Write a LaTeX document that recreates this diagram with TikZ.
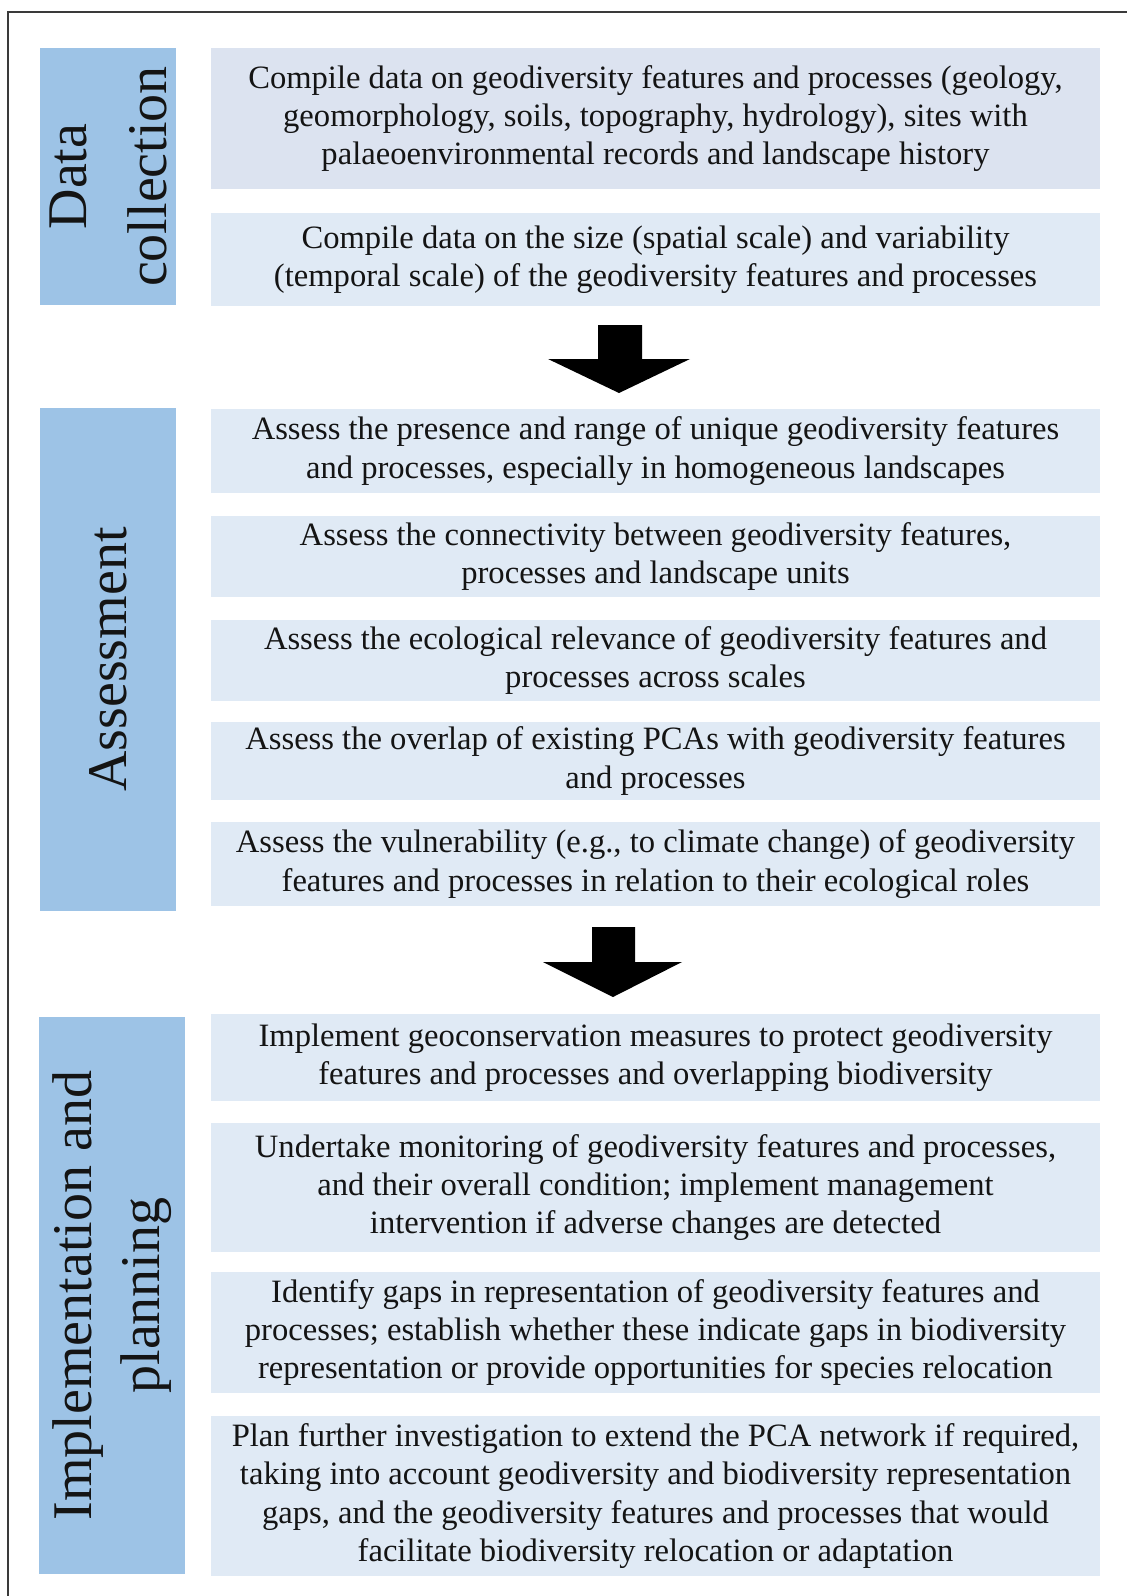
\documentclass[tikz,border=0pt]{standalone}
\usepackage{fontspec}
\setmainfont{Liberation Serif}
\definecolor{lfill}{HTML}{9DC3E6}
\definecolor{cfillA}{HTML}{DCE3F0}
\definecolor{cfill}{HTML}{E0EAF5}
\definecolor{txt}{HTML}{141414}
\definecolor{framec}{HTML}{3A3A3A}
\begin{document}
\begin{tikzpicture}[x=0.5pt,y=-0.5pt,
  cbox/.style={fill=cfill, inner sep=0pt, minimum width=444.5pt, align=center,
    font=\fontsize{16.3}{19.1}\selectfont, text=txt},
  lbox/.style={fill=lfill, inner sep=0pt, rotate=90, align=center, text=txt},
  blockarrow/.style={fill=black},
  framel/.style={draw=framec, line width=1.3pt}]
\useasboundingbox (0,0) rectangle (1126,1596);
\draw[framel] (8,1600) -- (8,12) -- (1130,12);

% Data collection
\node[lbox, minimum width=128.5pt, minimum height=68pt,
  font=\fontsize{28}{40}\selectfont] (ldc) at (108,176.5) {Data\\collection};
\node[cbox, fill=cfillA, minimum height=70.5pt] (dc1) at (655.5,118.5)
  {Compile data on geodiversity features and processes (geology,\\
   geomorphology, soils, topography, hydrology), sites with\\
   palaeoenvironmental records and landscape history};
\node[cbox, minimum height=46.5pt] (dc2) at (655.5,259.5)
  {Compile data on the size (spatial scale) and variability\\
   (temporal scale) of the geodiversity features and processes};

\fill[blockarrow] (598,325) -- (642,325) -- (642,359) -- (690,359) -- (619,393)
  -- (548,359) -- (598,359) -- cycle;

% Assessment
\node[lbox, minimum width=251.5pt, minimum height=68pt,
  font=\fontsize{28}{40}\selectfont] (lass) at (108,659.5) {Assessment};
\node[cbox, minimum height=42pt] (a1) at (655.5,451)
  {Assess the presence and range of unique geodiversity features\\
   and processes, especially in homogeneous landscapes};
\node[cbox, minimum height=40.5pt] (a2) at (655.5,556.5)
  {Assess the connectivity between geodiversity features,\\
   processes and landscape units};
\node[cbox, minimum height=40.5pt] (a3) at (655.5,660.5)
  {Assess the ecological relevance of geodiversity features and\\
   processes across scales};
\node[cbox, minimum height=39pt] (a4) at (655.5,761)
  {Assess the overlap of existing PCAs with geodiversity features\\
   and processes};
\node[cbox, minimum height=42pt] (a5) at (655.5,864)
  {Assess the vulnerability (e.g., to climate change) of geodiversity\\
   features and processes in relation to their ecological roles};

\fill[blockarrow] (592,927) -- (635,927) -- (635,962) -- (682,962) -- (613,997)
  -- (543,962) -- (592,962) -- cycle;

% Implementation and planning
\node[lbox, minimum width=278.5pt, minimum height=73pt,
  font=\fontsize{28}{34}\selectfont] (limp) at (112,1295.5) {Implementation and\\planning};
\node[cbox, minimum height=43.5pt] (i1) at (655.5,1057.5)
  {Implement geoconservation measures to protect geodiversity\\
   features and processes and overlapping biodiversity};
\node[cbox, minimum height=64.5pt] (i2) at (655.5,1187.5)
  {Undertake monitoring of geodiversity features and processes,\\
   and their overall condition; implement management\\
   intervention if adverse changes are detected};
\node[cbox, minimum height=60.5pt] (i3) at (655.5,1332.5)
  {Identify gaps in representation of geodiversity features and\\
   processes; establish whether these indicate gaps in biodiversity\\
   representation or provide opportunities for species relocation};
\node[cbox, minimum height=80pt] (i4) at (655.5,1496)
  {Plan further investigation to extend the PCA network if required,\\
   taking into account geodiversity and biodiversity representation\\
   gaps, and the geodiversity features and processes that would\\
   facilitate biodiversity relocation or adaptation};
\end{tikzpicture}
\end{document}
